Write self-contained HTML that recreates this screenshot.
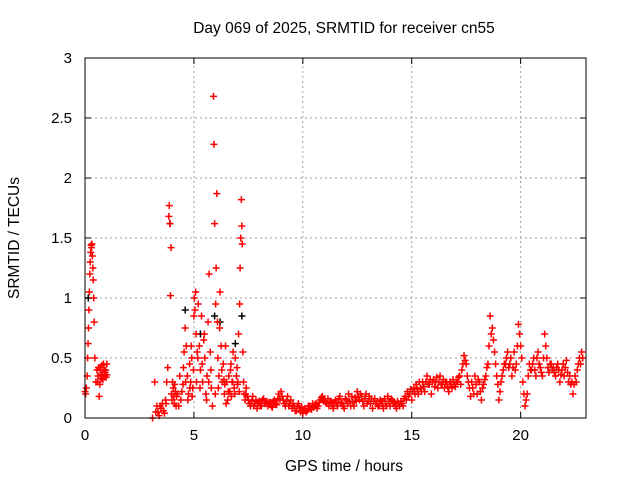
<!DOCTYPE html>
<html><head><meta charset="utf-8"><style>
body{margin:0;background:#fff;}
svg{display:block;font-family:"Liberation Sans",sans-serif;}
</style></head><body>
<svg id="chart" width="640" height="480">
<text x="344" y="33" font-size="15.5" text-anchor="middle">Day 069 of 2025, SRMTID for receiver cn55</text>
<text x="344" y="471" font-size="15.5" text-anchor="middle">GPS time / hours</text>
<text transform="translate(19,238) rotate(-90)" font-size="15.5" text-anchor="middle">SRMTID / TECUs</text>
<g id="grid"></g>
<g id="ticks"></g>
<g id="black"></g>
<g id="pts"></g>
<rect x="85" y="58" width="501" height="360" fill="none" stroke="#000" stroke-width="1"/>
</svg>
<script>
const xTicks=[0,5,10,15,20];
const yTicks=[0,0.5,1,1.5,2,2.5,3];
const yTickLabels=["0","0.5","1","1.5","2","2.5","3"];
const aTimes=[0,0.03,0.06,0.1,0.12,0.14,0.16,0.18,0.2,0.22,0.24,0.26,0.28,0.3,0.32,0.34,0.36,0.38,0.4,0.42,0.45,0.5,0.55,0.6,0.65,0.7,0.75,0.8,0.85,0.9,0.95,1.0,1.0,0.58,0.62,0.68,0.72,0.78,0.82,0.88,0.92,0.97];
const aValues=[.22,.2,.25,.35,.5,.62,.75,.9,1.05,1.2,1.3,1.38,1.44,1.42,1.45,1.35,1.25,1.15,1.0,.8,.5,.3,.4,.35,.18,.42,.33,.38,.45,.35,.4,.45,.36,.3,.42,.28,.36,.44,.32,.4,.38,.34];
const bTimes=[3.1,3.2,3.25,3.3,3.4,3.5,3.55,3.6,3.7,3.75,3.8,3.85,3.87,3.9,3.92,3.95,3.97,4.0,4.05,4.1,4.15,4.2,4.3,4.35,4.4,4.5,4.55,4.6,4.65,4.7,4.75,4.8,4.85,4.9,4.95,5.0,5.02,5.05,5.08,5.1,5.15,5.2,5.25,5.3,5.35,5.4,5.45,5.5,5.55,5.6,5.65,5.7,5.75,5.8,5.85,5.9,5.92,5.95,6.0,6.02,6.05,6.08,6.1,6.15,6.2,6.25,6.3,6.35,6.4,6.45,6.5,6.55,6.6,6.65,6.7,6.75,6.8,6.85,6.9,6.95,7.0,7.05,7.1,7.12,7.15,7.18,7.2,7.22,7.25,7.3,7.35,7.4,
3.35,3.45,3.65,3.72,4.02,4.08,4.12,4.18,4.25,4.45,4.52,4.62,4.72,4.82,4.88,4.92,4.98,5.12,5.18,5.28,5.38,5.48,5.58,5.68,5.78,5.98,6.12,6.18,6.28,6.38,6.42,6.48,6.58,6.68,6.72,6.78,6.88,6.98,7.02,7.08,7.28,7.38,7.45];
const bValues=[0,.3,.05,.1,.02,.08,.12,.06,.15,.3,.42,1.68,1.77,1.62,1.02,1.42,.2,.15,.25,.12,.22,.18,.1,.35,.15,.28,.55,.75,.6,.35,.2,.45,.3,.5,.25,.85,1.0,.9,1.05,.7,.55,.95,.6,.4,.85,.3,.65,.5,.2,.35,.8,1.2,.55,.25,.1,2.68,2.28,1.62,.95,1.25,1.87,.8,.5,.35,1.05,.6,.3,.45,.2,.6,.3,.15,.35,.22,.45,.3,.55,.25,.5,.35,.28,.7,.95,1.25,1.5,1.82,1.6,1.45,.55,.2,.15,.25,
.05,.1,.04,.12,.3,.18,.28,.1,.2,.22,.42,.3,.15,.25,.6,.18,.4,.3,.5,.25,.45,.7,.15,.3,.4,.2,.25,.75,.4,.32,.28,.12,.22,.4,.18,.3,.2,.42,.3,.22,.3,.2,.18];
const cTimes=[7.5,7.6,7.7,7.8,7.9,8.0,8.1,8.2,8.3,8.4,8.5,8.6,8.7,8.8,8.9,9.0,9.1,9.2,9.3,9.4,9.5,9.6,9.7,9.8,9.9,10.0,10.1,10.2,10.3,10.4,10.5,10.6,10.7,10.8,10.9,11.0,11.1,11.2,11.3,11.4,11.5,11.6,11.7,11.8,11.9,12.0,12.1,12.2,12.3,12.4,12.5,12.6,12.7,12.8,12.9,13.0,13.1,13.2,13.3,13.4,13.5,13.6,13.7,13.8,13.9,14.0,14.1,14.2,14.3,14.4,14.5,14.6,14.7,14.8,14.9,15.0,15.1,15.2,15.3,15.4,15.5,15.6,15.7,15.8,15.9,16.0,16.1,16.2,16.3,16.4,16.5,16.6,16.7,16.8,16.9,17.0,17.1,17.2,17.3,17.4,17.5,17.6,17.7,17.8,17.9,18.0,18.1,18.2,18.3,18.4,18.5,18.6,18.7,18.8,18.9,19.0,19.1,19.2,19.3,19.4,19.5,19.6,19.7,19.8,19.9,20.0,20.1,20.2,20.3,20.4,20.5,20.6,20.7,20.8,20.9,21.0,21.1,21.2,21.3,21.4,21.5,21.6,21.7,21.8,21.9,22.0,22.1,22.2,22.3,22.4,22.5,22.6,22.7,22.8];
const cValues=[.15,.1,.18,.12,.08,.14,.1,.16,.12,.1,
.13,.09,.15,.11,.2,.22,.15,.1,.18,.12,
.08,.1,.06,.12,.05,.04,.08,.06,.1,.07,
.09,.12,.1,.15,.18,.16,.12,.1,.14,.08,
.15,.1,.18,.12,.08,.15,.2,.1,.13,.17,
.22,.15,.18,.1,.2,.14,.12,.08,.16,.12,
.1,.14,.08,.12,.18,.1,.15,.13,.08,.12,
.14,.1,.18,.22,.2,.15,.25,.28,.2,.25,
.3,.22,.35,.28,.2,.32,.3,.25,.35,.28,
.25,.3,.22,.28,.32,.26,.3,.35,.4,.52,
.45,.3,.18,.25,.35,.2,.3,.15,.28,.35,
.45,.85,.75,.55,.35,.15,.3,.4,.45,.55,
.45,.35,.55,.45,.78,.6,.3,.1,.2,.45,
.4,.5,.35,.55,.42,.35,.7,.5,.38,.45,
.42,.35,.45,.3,.4,.35,.48,.3,.28,.2,
.35,.4,.5,.55];
const cValues2=[.12,.14,.1,.15,.13,.1,.15,.12,.14,.13,
.1,.14,.12,.16,.15,.18,.12,.14,.1,.15,
.12,.06,.1,.08,.09,.07,.05,.1,.08,.12,
.11,.08,.13,.17,.14,.13,.16,.14,.1,.13,
.12,.16,.13,.1,.16,.12,.14,.18,.1,.14,
.18,.2,.14,.16,.12,.18,.16,.14,.12,.1,
.15,.12,.16,.1,.14,.16,.12,.1,.14,.1,
.12,.16,.15,.18,.24,.22,.2,.24,.3,.22,
.26,.3,.28,.32,.3,.26,.34,.3,.28,.32,
.3,.26,.3,.25,.28,.3,.34,.28,.45,.48,
.35,.25,.3,.2,.28,.32,.22,.25,.32,.42,
.6,.7,.65,.45,.28,.22,.35,.45,.5,.42,
.5,.42,.4,.6,.7,.5,.2,.15,.35,.4,
.45,.4,.5,.45,.38,.5,.6,.42,.45,.4,
.38,.42,.4,.36,.45,.42,.38,.35,.3,.28,
.3,.45,.45,.5];
const blackTimes=[0.15,3.9,4.6,5.3,5.95,6.2,6.9,7.2];
const blackValues=[1.0,1.62,0.9,0.7,0.85,0.8,0.62,0.85];

const X0=85,X1=586,Y0=418,Y1=58,XMAX=23,YMAX=3;
function xs(t){return X0+(X1-X0)*t/XMAX;}
function ys(v){return Y0-(Y0-Y1)*v/YMAX;}
const NS="http://www.w3.org/2000/svg";
function mk(tag,attrs,parent){const e=document.createElementNS(NS,tag);for(const k in attrs)e.setAttribute(k,attrs[k]);parent.appendChild(e);return e;}
const grid=document.getElementById('grid'),ticks=document.getElementById('ticks');
xTicks.forEach((t,i)=>{
  const x=xs(t);
  if(t>0){const g=mk('line',{x1:x,y1:Y0,x2:x,y2:Y1,stroke:'#a0a0a0','stroke-dasharray':'2,3'},grid);
  
  }
  mk('line',{x1:x,y1:Y0,x2:x,y2:Y0-6,stroke:'#000'},ticks);
  mk('line',{x1:x,y1:Y1,x2:x,y2:Y1+6,stroke:'#000'},ticks);
  const l=mk('text',{x:x,y:Y0+22,'font-size':15,'text-anchor':'middle'},ticks);
  l.textContent=String(t);
  
  
});
yTicks.forEach((v,i)=>{
  const y=ys(v);
  if(v>0&&v<YMAX){const g=mk('line',{x1:X0,y1:y,x2:X1,y2:y,stroke:'#a0a0a0','stroke-dasharray':'2,3'},grid);
  
  }
  mk('line',{x1:X0,y1:y,x2:X0+6,y2:y,stroke:'#000'},ticks);
  mk('line',{x1:X1,y1:y,x2:X1-6,y2:y,stroke:'#000'},ticks);
  const l=mk('text',{x:X0-13,y:y+5,'font-size':15,'text-anchor':'end'},ticks);
  l.textContent=yTickLabels[i];
  
  
});
function plus(parent,t,v,color){
  const x=xs(t),y=ys(v);
  const p=mk('path',{d:`M${x-3.5},${y}H${x+3.5}M${x},${y-3.5}V${y+3.5}`,stroke:color,'stroke-width':1.5,fill:'none'},parent);
  
  
}
const black=document.getElementById('black'),pts=document.getElementById('pts');
blackTimes.forEach((t,i)=>plus(black,t,blackValues[i],'#000'));
aTimes.forEach((t,i)=>plus(pts,t,aValues[i],'#f00'));
bTimes.forEach((t,i)=>plus(pts,t,bValues[i],'#f00'));
cTimes.forEach((t,i)=>plus(pts,t,cValues[i],'#f00'));
cTimes.forEach((t,i)=>plus(pts,t+0.05,cValues2[i],'#f00'));
</script>
</body></html>
